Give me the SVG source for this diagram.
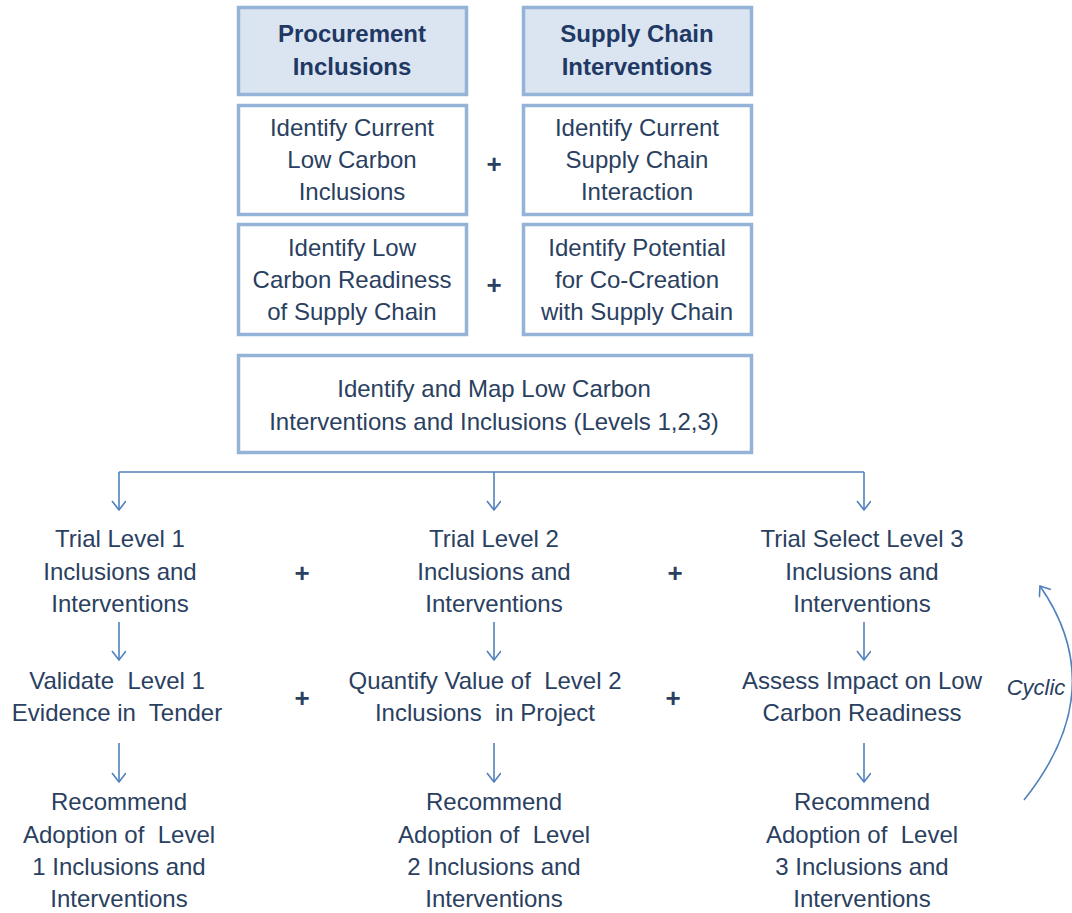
<svg xmlns="http://www.w3.org/2000/svg" width="1072" height="913" viewBox="0 0 1072 913">
<defs>
<marker id="arr" markerUnits="userSpaceOnUse" markerWidth="16" markerHeight="16" refX="12" refY="7" orient="auto">
<path d="M3,0 L12,7 L3,14" fill="none" stroke="#4F81BD" stroke-width="1.6"/>
</marker>
</defs>
<style>
.box{fill:#FFFFFF;stroke:#95B3D7;stroke-width:3.5}
.hdr{fill:#DBE5F1;stroke:#95B3D7;stroke-width:3.5}
text{font-family:"Liberation Sans",Arial,sans-serif;font-size:24px;fill:#2A4060;text-anchor:middle;white-space:pre}
.b{font-weight:bold;fill:#1F3864}
.plus{font-size:26px;font-weight:bold}
.it{font-style:italic;font-size:22px}
.con{fill:none;stroke:#4F81BD;stroke-width:1.6}
</style>
<rect width="1072" height="913" fill="#FFFFFF"/>
<g id="hdr-procurement">
<rect class="hdr" x="238.5" y="7.5" width="228" height="87"/>
<text class="b" x="352" y="42">Procurement</text>
<text class="b" x="352" y="75">Inclusions</text>
</g>
<g id="hdr-supply">
<rect class="hdr" x="523.5" y="7.5" width="228" height="87"/>
<text class="b" x="637" y="42">Supply Chain</text>
<text class="b" x="637" y="75">Interventions</text>
</g>
<g id="n-current-low-carbon">
<rect class="box" x="238.5" y="105.5" width="228" height="109"/>
<text x="352" y="136">Identify Current</text>
<text x="352" y="168">Low Carbon</text>
<text x="352" y="200">Inclusions</text>
</g>
<g id="n-current-supply">
<rect class="box" x="523.5" y="105.5" width="228" height="109"/>
<text x="637" y="136">Identify Current</text>
<text x="637" y="168">Supply Chain</text>
<text x="637" y="200">Interaction</text>
</g>
<g id="n-readiness">
<rect class="box" x="238.5" y="224.5" width="228" height="110"/>
<text x="352" y="256">Identify Low</text>
<text x="352" y="288">Carbon Readiness</text>
<text x="352" y="320">of Supply Chain</text>
</g>
<g id="n-cocreation">
<rect class="box" x="523.5" y="224.5" width="228" height="110"/>
<text x="637" y="256">Identify Potential</text>
<text x="637" y="288">for Co-Creation</text>
<text x="637" y="320">with Supply Chain</text>
</g>
<g id="n-map">
<rect class="box" x="238.5" y="355.5" width="513" height="97"/>
<text x="494" y="397">Identify and Map Low Carbon</text>
<text x="494" y="430">Interventions and Inclusions (Levels 1,2,3)</text>
</g>
<g id="plus-signs">
<text class="plus" x="494" y="173">+</text>
<text class="plus" x="494" y="294">+</text>
<text class="plus" x="302" y="582">+</text>
<text class="plus" x="675" y="582">+</text>
<text class="plus" x="302" y="707">+</text>
<text class="plus" x="673" y="707">+</text>
</g>
<g id="n-trial1">
<text x="120" y="547">Trial Level 1</text>
<text x="120" y="580">Inclusions and</text>
<text x="120" y="612">Interventions</text>
</g>
<g id="n-trial2">
<text x="494" y="547">Trial Level 2</text>
<text x="494" y="580">Inclusions and</text>
<text x="494" y="612">Interventions</text>
</g>
<g id="n-trial3">
<text x="862" y="547">Trial Select Level 3</text>
<text x="862" y="580">Inclusions and</text>
<text x="862" y="612">Interventions</text>
</g>
<g id="n-validate1">
<text x="117" y="689">Validate  Level 1</text>
<text x="117" y="721">Evidence in  Tender</text>
</g>
<g id="n-quantify2">
<text x="485" y="689">Quantify Value of  Level 2</text>
<text x="485" y="721">Inclusions  in Project</text>
</g>
<g id="n-assess3">
<text x="862" y="689">Assess Impact on Low</text>
<text x="862" y="721">Carbon Readiness</text>
</g>
<g id="n-recommend1">
<text x="119" y="810">Recommend</text>
<text x="119" y="843">Adoption of  Level</text>
<text x="119" y="875">1 Inclusions and</text>
<text x="119" y="907">Interventions</text>
</g>
<g id="n-recommend2">
<text x="494" y="810">Recommend</text>
<text x="494" y="843">Adoption of  Level</text>
<text x="494" y="875">2 Inclusions and</text>
<text x="494" y="907">Interventions</text>
</g>
<g id="n-recommend3">
<text x="862" y="810">Recommend</text>
<text x="862" y="843">Adoption of  Level</text>
<text x="862" y="875">3 Inclusions and</text>
<text x="862" y="907">Interventions</text>
</g>
<g id="cyclic-label">
<text class="it" x="1036" y="695">Cyclic</text>
</g>
<g id="connectors">
<path class="con" d="M119,472 H864"/>
<path class="con" d="M119,472 V510" marker-end="url(#arr)"/>
<path class="con" d="M494,472 V510" marker-end="url(#arr)"/>
<path class="con" d="M864,472 V510" marker-end="url(#arr)"/>
<path class="con" d="M119,622 V660" marker-end="url(#arr)"/>
<path class="con" d="M494,622 V660" marker-end="url(#arr)"/>
<path class="con" d="M864,622 V660" marker-end="url(#arr)"/>
<path class="con" d="M119,743 V782" marker-end="url(#arr)"/>
<path class="con" d="M494,743 V782" marker-end="url(#arr)"/>
<path class="con" d="M864,743 V782" marker-end="url(#arr)"/>
<path class="con" d="M1024,800 Q1112,690 1040,586" marker-end="url(#arr)"/>
</g>
</svg>
